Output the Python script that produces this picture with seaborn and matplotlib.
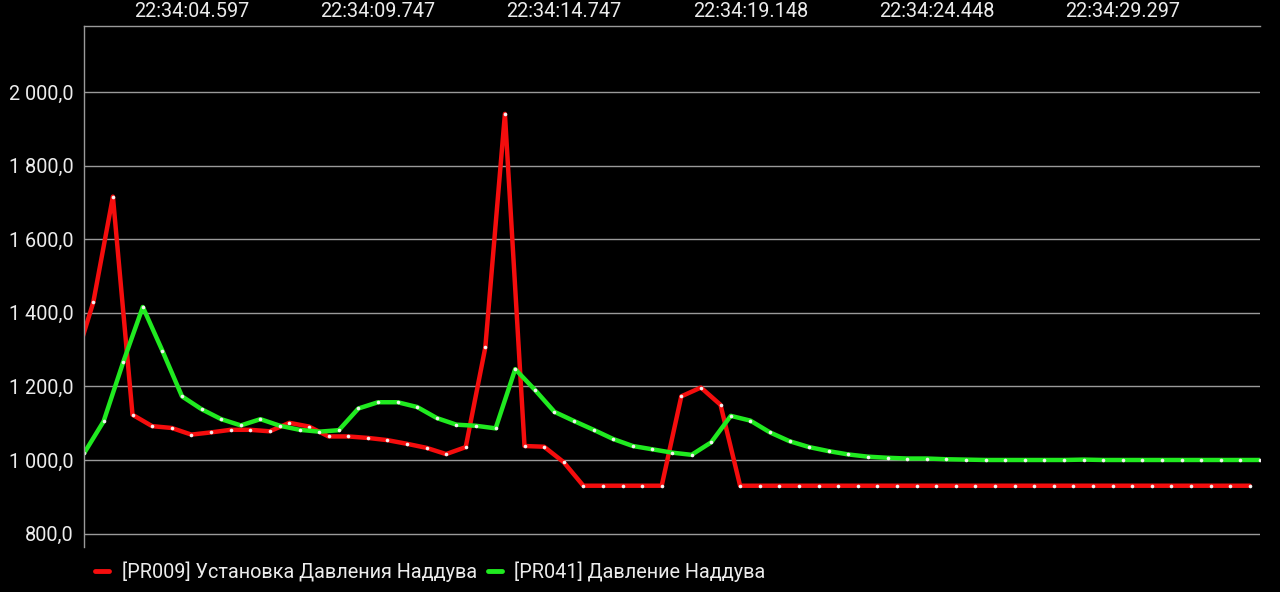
import numpy as np
import pandas as pd
import matplotlib
matplotlib.use("Agg")
import matplotlib.pyplot as plt
import seaborn as sns
from matplotlib.lines import Line2D
from matplotlib.ticker import FuncFormatter

# ---- data ----
time_labels = ["22:34:04.597", "22:34:09.747", "22:34:14.747",
               "22:34:19.148", "22:34:24.448", "22:34:29.297"]
time_label_pos = [5.5, 15.0, 24.5, 34.0, 43.5, 53.0]

series_red_name = "[PR009] Установка Давления Наддува"
series_green_name = "[PR041] Давление Наддува"

# sample index (green clock); red samples are offset by ~half a step
red_x = [-0.525 + i for i in range(61)]
red_y = [1255, 1429, 1716, 1123, 1092, 1087, 1069, 1075, 1082, 1082,
         1078, 1101, 1091, 1064, 1064, 1060, 1054, 1044, 1033, 1016,
         1035, 1306, 1941, 1038, 1036, 994, 930, 930, 930, 930,
         930, 1173, 1197, 1150, 930, 930, 930, 930, 930, 930,
         930, 930, 930, 930, 930, 930, 930, 930, 930, 930,
         930, 930, 930, 930, 930, 930, 930, 930, 930, 930, 930]

green_x = list(range(61))
green_y = [1018, 1105, 1266, 1416, 1297, 1173, 1138, 1111, 1094, 1111,
           1093, 1082, 1077, 1081, 1140, 1157, 1157, 1144, 1114, 1096,
           1093, 1086, 1247, 1191, 1131, 1106, 1082, 1057, 1038, 1029,
           1020, 1014, 1048, 1120, 1107, 1075, 1051, 1035, 1024, 1015,
           1009, 1006, 1004, 1004, 1002, 1001, 1000, 1000, 1000, 1000,
           1000, 1001, 1000, 1000, 1000, 1000, 1000, 1000, 1000, 1000, 1000]

y_ticks = [800, 1000, 1200, 1400, 1600, 1800, 2000]

# ---- style ----
sns.set_theme(style="dark")
plt.rcParams["font.family"] = ["Roboto", "DejaVu Sans"]

RED = "#f50d0d"
GREEN = "#20ea20"
GRID = "#9a9a9a"
TXT = "#ececec"
FS = 14.3

fig = plt.figure(figsize=(12.8, 5.92), dpi=100, facecolor="black")
ax = fig.add_axes([84 / 1280, 1 - 547 / 592, (1260 - 84) / 1280, (547 - 26) / 592])
ax.set_facecolor("black")

df_red = pd.DataFrame({"x": red_x, "y": red_y})
df_green = pd.DataFrame({"x": green_x, "y": green_y})

for df, col in [(df_red, RED), (df_green, GREEN)]:
    sns.lineplot(data=df, x="x", y="y", ax=ax, color=col, linewidth=3.2,
                 marker="o", markersize=2.6, markerfacecolor="#f4f0f0",
                 markeredgewidth=0, sort=False, estimator=None, clip_on=True)

ax.set_xlim(0, 60)
ax.set_ylim(763.4, 2180)
ax.set_yticks(y_ticks)
ax.yaxis.set_major_formatter(
    FuncFormatter(lambda v, p: f"{v:,.1f}".replace(",", " ").replace(".", ",")))
ax.xaxis.tick_top()
ax.set_xticks(time_label_pos)
ax.set_xticklabels(time_labels)
ax.tick_params(axis="x", length=0, pad=3.8, labelsize=FS, colors=TXT)
ax.tick_params(axis="y", length=0, pad=7.5, labelsize=FS, colors=TXT)
ax.set_xlabel("")
ax.set_ylabel("")

ax.grid(False)
ax.yaxis.grid(True, color=GRID, linewidth=1.0)
for s in ["right", "bottom"]:
    ax.spines[s].set_visible(False)
for s in ["left", "top"]:
    ax.spines[s].set_visible(True)
    ax.spines[s].set_color(GRID)
    ax.spines[s].set_linewidth(1.0)

handles = [Line2D([0], [0], color=RED, linewidth=3.5),
           Line2D([0], [0], color=GREEN, linewidth=3.5)]
leg = fig.legend(handles, [series_red_name, series_green_name],
                 loc="center left", bbox_to_anchor=(95 / 1280, 1 - 572 / 592),
                 bbox_transform=fig.transFigure, ncol=2, frameon=False,
                 fontsize=FS, handlelength=0.72, handletextpad=0.62,
                 columnspacing=0.55, borderpad=0, borderaxespad=0)
for t in leg.get_texts():
    t.set_color(TXT)

fig.savefig("out.png", dpi=100, facecolor="black")
